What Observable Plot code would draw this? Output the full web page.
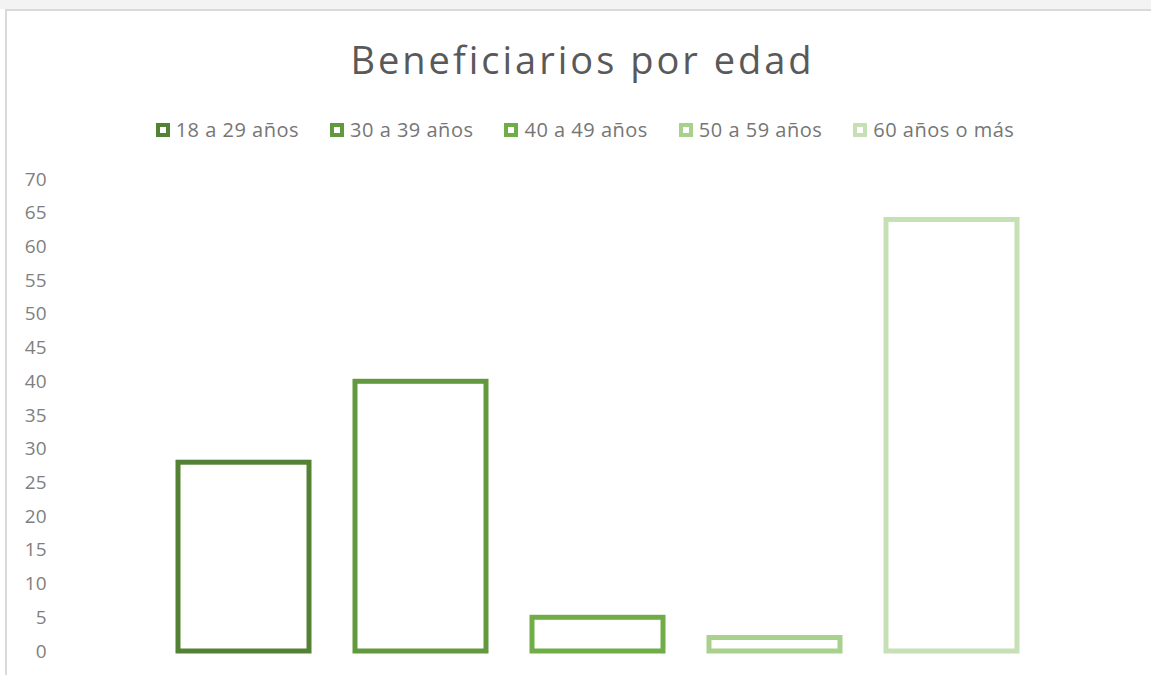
<!DOCTYPE html>
<html>
<head>
<meta charset="utf-8">
<script src="https://cdn.jsdelivr.net/npm/d3@7"></script>
<script src="https://cdn.jsdelivr.net/npm/@observablehq/plot@0.6"></script>
<style>
  html, body { margin: 0; padding: 0; background: #ffffff; }
  body { width: 1151px; height: 675px; overflow: hidden; position: relative; font-family: "Open Sans", "Noto Sans", sans-serif; }
  #topband { position: absolute; left: 0; top: 0; width: 1151px; height: 9px; background: #f3f3f3; }
  #frame { position: absolute; left: 5px; top: 9px; width: 1160px; height: 680px; border-left: 2px solid #d9d9d9; border-top: 2px solid #d9d9d9; box-sizing: border-box; }
  #title { position: absolute; left: 0; top: 40px; width: 1165px; text-align: center; font-size: 38px; letter-spacing: 3px; color: #595959; line-height: 1; }
  #legend { position: absolute; left: 0; top: 117px; width: 1170px; display: flex; justify-content: center; gap: 31px; font-size: 20px; letter-spacing: 0.5px; color: #767676; line-height: 26px; }
  .item { display: flex; align-items: center; }
  .sw { width: 14px; height: 14px; box-sizing: border-box; border: 4px solid; background: #fff; margin-right: 6px; }
  #chart { position: absolute; left: 0; top: 160px; }
</style>
</head>
<body>
<div id="topband"></div>
<div id="frame"></div>
<div id="title">Beneficiarios por edad</div>
<div id="legend"></div>
<div id="chart"></div>
<script>
const categories = ["18 a 29 años", "30 a 39 años", "40 a 49 años", "50 a 59 años", "60 años o más"];
const values = [28, 40, 5, 2, 64];
const colors = ["#548235", "#62993E", "#70AD47", "#A9D18E", "#C5E0B4"];
const yTicks = [0, 5, 10, 15, 20, 25, 30, 35, 40, 45, 50, 55, 60, 65, 70];

const data = categories.map((c, i) => ({category: c, value: values[i]}));

const legend = document.getElementById("legend");
categories.forEach((c, i) => {
  const item = document.createElement("div");
  item.className = "item";
  const sw = document.createElement("span");
  sw.className = "sw";
  sw.style.borderColor = colors[i];
  item.appendChild(sw);
  const t = document.createElement("span");
  t.textContent = c;
  item.appendChild(t);
  legend.appendChild(item);
});

const chart = Plot.plot({
  width: 1151,
  height: 515,
  marginLeft: 130,
  marginRight: 86,
  marginTop: 19,
  marginBottom: 24,
  style: {fontFamily: "'Open Sans', 'Noto Sans', sans-serif", fontSize: "19px", color: "#7f7f7f", background: "transparent"},
  x: {domain: categories, padding: 0.26, axis: null},
  y: {domain: [0, 70], ticks: yTicks, tickSize: 0, tickPadding: 84, label: null},
  color: {domain: categories, range: colors},
  marks: [
    Plot.barY(data, {x: "category", y: "value", fill: "white", stroke: "category", strokeWidth: 5})
  ]
});
document.getElementById("chart").appendChild(chart);
</script>
</body>
</html>
